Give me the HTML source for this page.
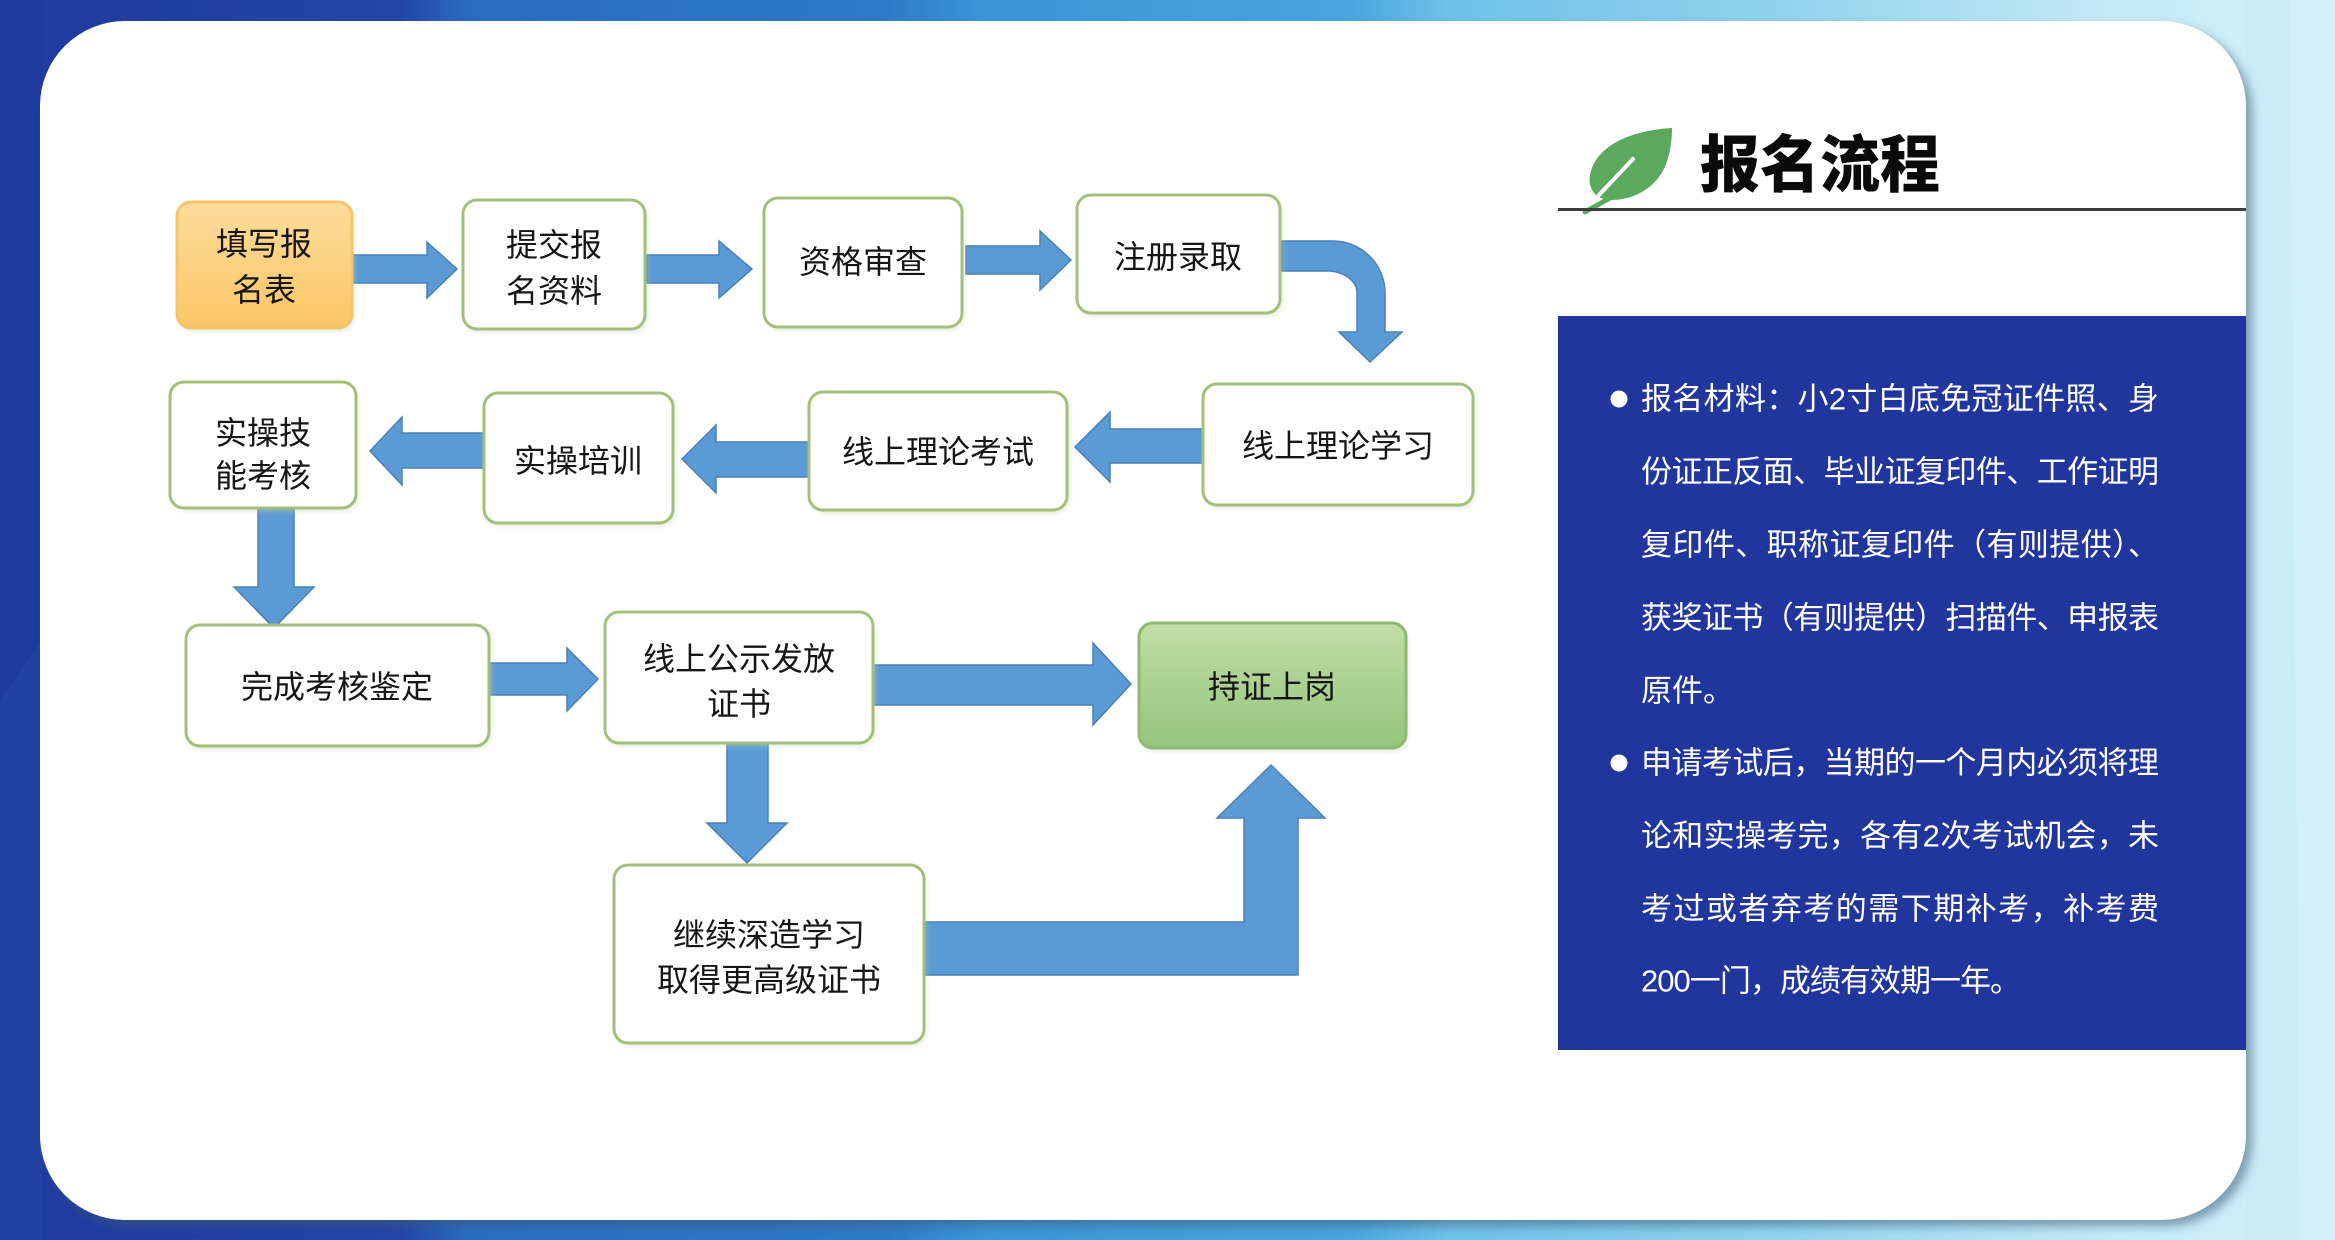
<!DOCTYPE html>
<html>
<head>
<meta charset="utf-8">
<style>
  html,body{margin:0;padding:0;}
  body{width:2335px;height:1240px;overflow:hidden;background:#2a6fc2;}
  svg{display:block;}
  .bx{font-family:"Liberation Sans","Noto Sans CJK SC",sans-serif;font-size:32px;fill:#161616;}
  .pt{font-family:"Liberation Sans","Noto Sans CJK SC",sans-serif;font-size:31px;fill:#ffffff;}
  .tt{font-family:"Liberation Sans","Noto Sans CJK SC",sans-serif;font-size:62px;font-weight:900;fill:#0a0a0a;}
</style>
</head>
<body>
<svg width="2335" height="1240" viewBox="0 0 2335 1240" xmlns="http://www.w3.org/2000/svg">
  <defs>
    <linearGradient id="bg" x1="0" y1="0" x2="1" y2="0">
      <stop offset="0" stop-color="#1f3b9f"/>
      <stop offset="0.17" stop-color="#2244a5"/>
      <stop offset="0.2" stop-color="#2a6cc0"/>
      <stop offset="0.38" stop-color="#2e7ac8"/>
      <stop offset="0.42" stop-color="#3b95d6"/>
      <stop offset="0.58" stop-color="#4aa6de"/>
      <stop offset="0.62" stop-color="#6fc1e8"/>
      <stop offset="0.77" stop-color="#93d4ef"/>
      <stop offset="0.9" stop-color="#c3e9f6"/>
      <stop offset="1" stop-color="#d3f2fa"/>
    </linearGradient>
    <linearGradient id="orange" x1="0" y1="0" x2="0" y2="1">
      <stop offset="0" stop-color="#fddc9c"/>
      <stop offset="1" stop-color="#fbc666"/>
    </linearGradient>
    <linearGradient id="green" x1="0" y1="0" x2="0" y2="1">
      <stop offset="0" stop-color="#c0dda6"/>
      <stop offset="1" stop-color="#95c57c"/>
    </linearGradient>
    <filter id="sh" x="-5%" y="-5%" width="110%" height="112%">
      <feGaussianBlur stdDeviation="5"/>
    </filter>
    <filter id="bsh" x="-10%" y="-10%" width="120%" height="130%">
      <feGaussianBlur stdDeviation="3"/>
    </filter>
  </defs>

  <!-- background -->
  <rect x="0" y="0" width="2335" height="1240" fill="url(#bg)"/>
  <rect x="0" y="0" width="42" height="1240" fill="#1f3a9e"/>
  <polygon points="0,700 42,640 42,1240 0,1240" fill="#2447a8" opacity="0.5"/>
  <polygon points="2246,0 2335,0 2335,1240 2246,1240" fill="#c9ecf7"/>
  <polygon points="2290,0 2335,0 2335,1240 2300,1240" fill="#d6f2fa" opacity="0.7"/>

  <!-- card shadow + card -->
  <rect x="46" y="27" width="2206" height="1199" rx="85" ry="85" fill="#3d5a78" opacity="0.55" filter="url(#sh)"/>
  <rect x="40" y="21" width="2206" height="1199" rx="85" ry="85" fill="#ffffff"/>

  <!-- ===== flowchart arrows ===== -->
  <g fill="#5b9bd5" stroke="#4a80b8" stroke-width="1.5" stroke-linejoin="miter">
    <polygon points="353,255 427,255 427,242 457,269 427,298 427,283 353,283"/>
    <polygon points="647,255 719,255 719,241 752,269 719,298 719,283 647,283"/>
    <polygon points="966,246 1040,246 1040,231 1071,260 1040,290 1040,274 966,274"/>
    <path d="M1282,241 L1333,241 A52,52 0 0 1 1385,293 L1385,332 L1402,332 L1370,362 L1339,332 L1357,332 L1357,293 A30,22 0 0 0 1327,271 L1282,271 Z"/>
    <polygon points="1203,429 1110,429 1110,412 1075,447 1110,482 1110,463 1203,463"/>
    <polygon points="809,442 716,442 716,425 682,459 716,493 716,477 809,477"/>
    <polygon points="486,433 402,433 402,417 370,451 402,485 402,468 486,468"/>
    <polygon points="258,508 294,508 294,587 314,587 274,628 234,587 258,587"/>
    <polygon points="490,663 567,663 567,648 598,679 567,711 567,695 490,695"/>
    <polygon points="873,665 1093,665 1093,643 1131,684 1093,725 1093,705 873,705"/>
    <polygon points="727,743 768,743 768,823 787,823 747,863 707,823 727,823"/>
    <polygon points="922,922 1244,922 1244,818 1217,818 1271,765 1325,818 1298,818 1298,975 922,975"/>
  </g>

  <!-- ===== boxes ===== -->
  <g>
    <g fill="#c8d4b8" opacity="0.5" filter="url(#bsh)">
      <rect x="179" y="205" width="175" height="126" rx="14"/>
      <rect x="465" y="203" width="182" height="129" rx="14"/>
      <rect x="766" y="201" width="198" height="129" rx="14"/>
      <rect x="1079" y="198" width="203" height="118" rx="14"/>
      <rect x="172" y="385" width="186" height="126" rx="14"/>
      <rect x="486" y="396" width="189" height="130" rx="14"/>
      <rect x="811" y="395" width="258" height="118" rx="14"/>
      <rect x="1205" y="387" width="270" height="121" rx="14"/>
      <rect x="188" y="628" width="303" height="121" rx="14"/>
      <rect x="607" y="615" width="268" height="131" rx="14"/>
      <rect x="1141" y="626" width="267" height="125" rx="14"/>
      <rect x="616" y="868" width="310" height="178" rx="14"/>
    </g>
    <rect x="177" y="202" width="175" height="126" rx="14" fill="url(#orange)" stroke="#f3c66c" stroke-width="3"/>
    <g fill="#ffffff" stroke="#a3c07a" stroke-width="3">
      <rect x="463" y="200" width="182" height="129" rx="14"/>
      <rect x="764" y="198" width="198" height="129" rx="14"/>
      <rect x="1077" y="195" width="203" height="118" rx="14"/>
      <rect x="170" y="382" width="186" height="126" rx="14"/>
      <rect x="484" y="393" width="189" height="130" rx="14"/>
      <rect x="809" y="392" width="258" height="118" rx="14"/>
      <rect x="1203" y="384" width="270" height="121" rx="14"/>
      <rect x="186" y="625" width="303" height="121" rx="14"/>
      <rect x="605" y="612" width="268" height="131" rx="14"/>
      <rect x="614" y="865" width="310" height="178" rx="14"/>
    </g>
    <rect x="1139" y="623" width="267" height="125" rx="14" fill="url(#green)" stroke="#8fb873" stroke-width="3"/>
  </g>

  <!-- box labels -->
  <g class="bx" text-anchor="middle" dominant-baseline="central">
    <text x="264" y="244">填写报</text>
    <text x="264" y="290">名表</text>
    <text x="554" y="245">提交报</text>
    <text x="554" y="291">名资料</text>
    <text x="863" y="262">资格审查</text>
    <text x="1178" y="257">注册录取</text>
    <text x="263" y="433">实操技</text>
    <text x="263" y="476">能考核</text>
    <text x="578" y="461">实操培训</text>
    <text x="938" y="452">线上理论考试</text>
    <text x="1338" y="446">线上理论学习</text>
    <text x="337" y="687">完成考核鉴定</text>
    <text x="739" y="659">线上公示发放</text>
    <text x="739" y="704">证书</text>
    <text x="1272" y="687">持证上岗</text>
    <text x="769" y="935">继续深造学习</text>
    <text x="769" y="980">取得更高级证书</text>
  </g>

  <!-- ===== right panel ===== -->
  <!-- leaf -->
  <path d="M1672,128 C1636,130 1602,142 1592,168 C1585,186 1594,199 1610,200 C1640,200 1662,182 1668,158 C1671,148 1672,138 1672,128 Z" fill="#5aa95e"/>
  <line x1="1610" y1="198" x2="1585" y2="212" stroke="#5aa95e" stroke-width="5" stroke-linecap="round"/>
  <line x1="1599" y1="195" x2="1633" y2="159" stroke="#ffffff" stroke-width="4" stroke-linecap="round"/>

  <text class="tt" x="1700" y="166" dominant-baseline="central" textLength="240" lengthAdjust="spacingAndGlyphs">报名流程</text>
  <rect x="1558" y="208" width="688" height="3" fill="#3c3c3c"/>

  <rect x="1558" y="316" width="688" height="734" fill="#21369d"/>
  <circle cx="1619" cy="399" r="8.5" fill="#ffffff"/>
  <circle cx="1619" cy="763" r="8.5" fill="#ffffff"/>
  <g class="pt" dominant-baseline="central">
    <text x="1641" y="399" textLength="518" lengthAdjust="spacing">报名材料：小2寸白底免冠证件照、身</text>
    <text x="1641" y="472" textLength="518" lengthAdjust="spacing">份证正反面、毕业证复印件、工作证明</text>
    <text x="1641" y="545" textLength="518" lengthAdjust="spacing">复印件、职称证复印件（有则提供）、</text>
    <text x="1641" y="618" textLength="518" lengthAdjust="spacing">获奖证书（有则提供）扫描件、申报表</text>
    <text x="1641" y="691">原件。</text>
    <text x="1641" y="763" textLength="518" lengthAdjust="spacing">申请考试后，当期的一个月内必须将理</text>
    <text x="1641" y="836" textLength="518" lengthAdjust="spacing">论和实操考完，各有2次考试机会，未</text>
    <text x="1641" y="909" textLength="518" lengthAdjust="spacing">考过或者弃考的需下期补考，补考费</text>
    <text x="1641" y="981" textLength="380" lengthAdjust="spacing">200一门，成绩有效期一年。</text>
  </g>
</svg>
</body>
</html>
